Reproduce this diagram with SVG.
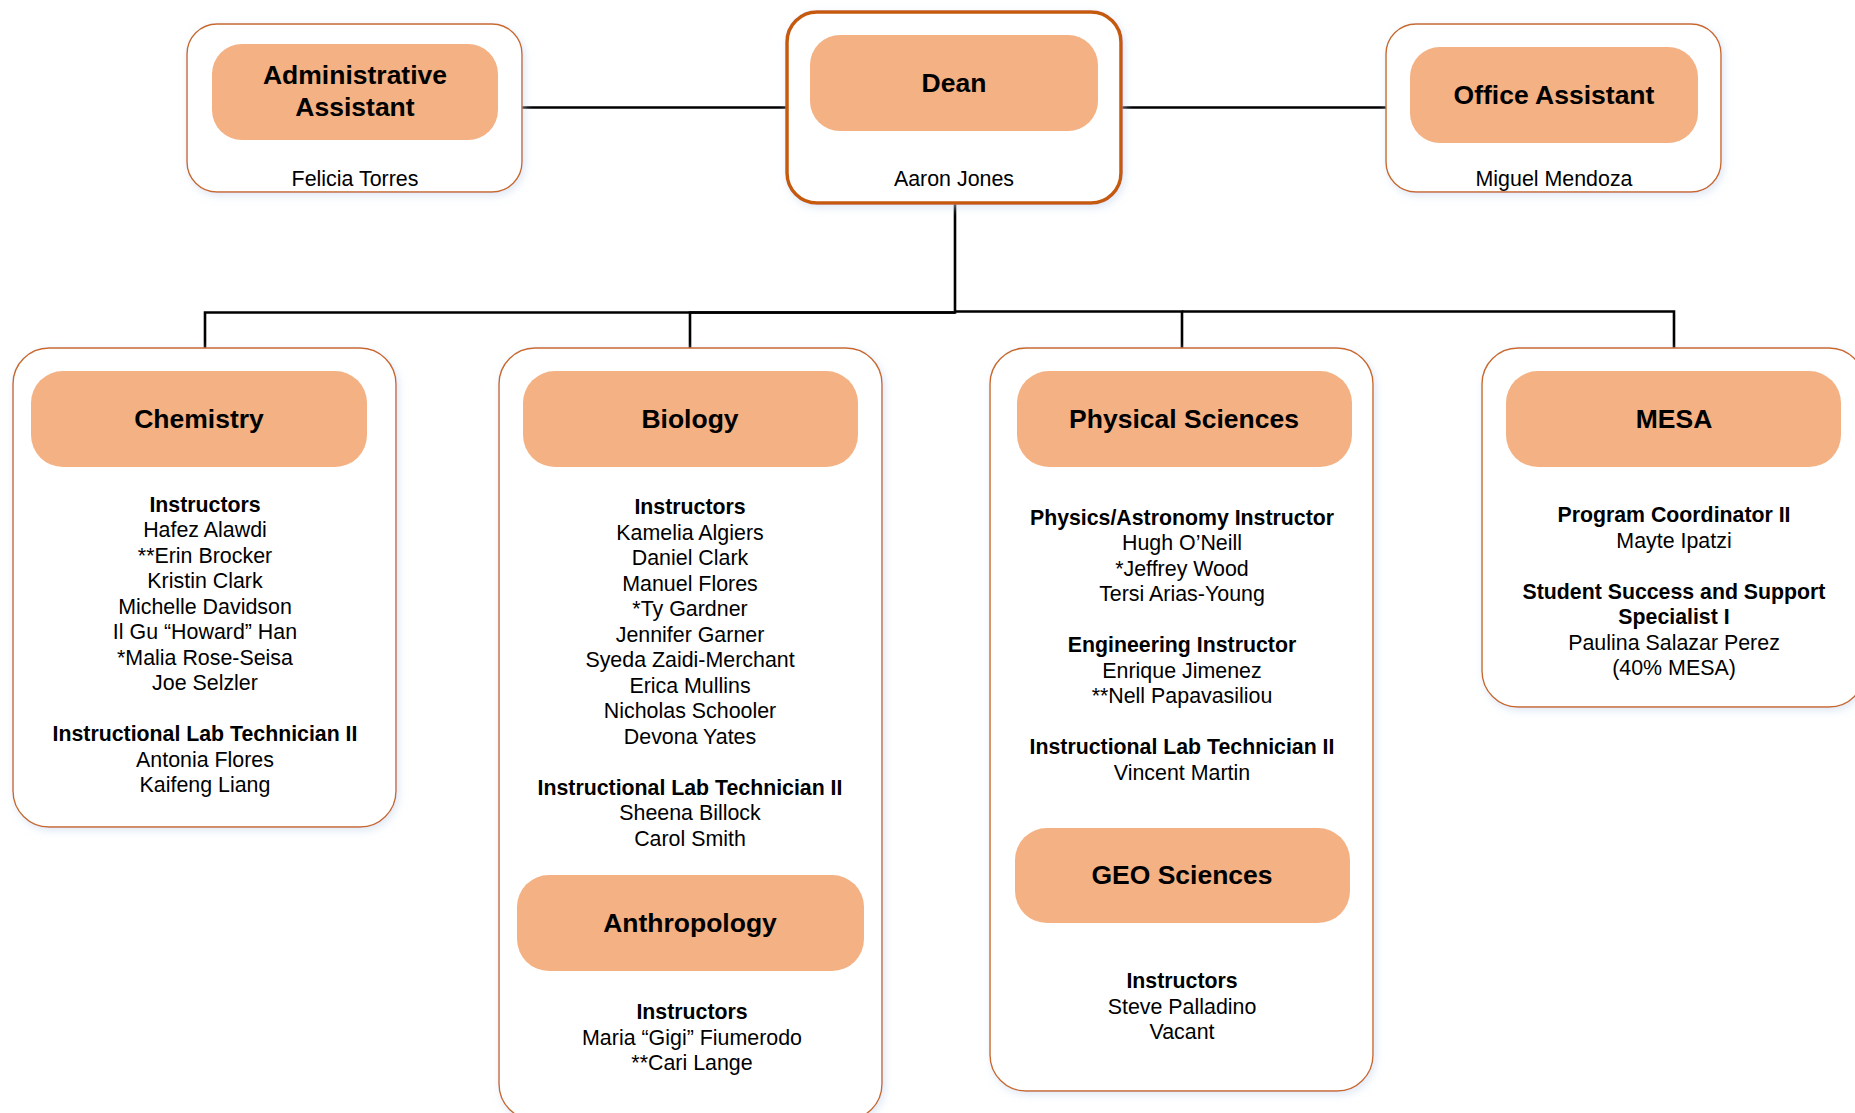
<svg xmlns="http://www.w3.org/2000/svg" width="1855" height="1113" viewBox="0 0 1855 1113">
<style>
.outer{fill:#fff;stroke:#C8682A;stroke-width:1.4}
.dean{fill:#fff;stroke:#C55A11;stroke-width:3.5}
.inner{fill:#F4B183;stroke:none}
.title{font-family:"Liberation Sans",Arial,sans-serif;font-weight:bold;font-size:26.5px;fill:#000;text-anchor:middle}
.name{font-family:"Liberation Sans",Arial,sans-serif;font-size:21.4px;fill:#000;text-anchor:middle}
.hd{font-family:"Liberation Sans",Arial,sans-serif;font-weight:bold;font-size:21.3px;fill:#000;text-anchor:middle}
.conn{fill:none;stroke:#000;stroke-width:2.6}
</style>
<defs>
<filter id="sh" x="-10%" y="-10%" width="120%" height="120%">
<feDropShadow dx="2" dy="3" stdDeviation="4" flood-color="#C9D9EE" flood-opacity="0.6"/>
</filter>
</defs>
<rect width="1855" height="1113" fill="#fff"/>
<g id="connectors">
<path class="conn" d="M522 107.5 H787"/>
<path class="conn" d="M1121 107.5 H1386"/>
<path class="conn" d="M955 203 V312.5 H205 V348"/>
<path class="conn" d="M955 312.5 H690 V348"/>
<path class="conn" d="M955 311.5 H1182 V348"/>
<path class="conn" d="M1182 311.5 H1674 V348"/>
</g>
<g id="admin">
<rect class="outer" filter="url(#sh)" x="187" y="24" width="335" height="168" rx="30"/>
<rect class="inner" x="212" y="44" width="286" height="96" rx="30"/>
<text class="title" x="355" y="84">Administrative</text>
<text class="title" x="355" y="116">Assistant</text>
<text class="name" x="355" y="186">Felicia Torres</text>
</g>
<g id="dean">
<rect class="dean" filter="url(#sh)" x="787" y="12" width="334" height="191" rx="30"/>
<rect class="inner" x="810" y="35" width="288" height="96" rx="30"/>
<text class="title" x="954" y="92">Dean</text>
<text class="name" x="954" y="186">Aaron Jones</text>
</g>
<g id="office">
<rect class="outer" filter="url(#sh)" x="1386" y="24" width="335" height="168" rx="30"/>
<rect class="inner" x="1410" y="47" width="288" height="96" rx="30"/>
<text class="title" x="1554" y="104">Office Assistant</text>
<text class="name" x="1554" y="186">Miguel Mendoza</text>
</g>
<g id="chemistry">
<rect class="outer" filter="url(#sh)" x="13" y="348" width="383" height="479" rx="36"/>
<rect class="inner" x="31" y="371" width="336" height="96" rx="32"/>
<text class="title" x="199" y="428">Chemistry</text>
<text class="hd" x="205" y="511.5">Instructors</text>
<text class="name" x="205" y="537">Hafez Alawdi</text>
<text class="name" x="205" y="562.5">**Erin Brocker</text>
<text class="name" x="205" y="588">Kristin Clark</text>
<text class="name" x="205" y="613.5">Michelle Davidson</text>
<text class="name" x="205" y="639">Il Gu “Howard” Han</text>
<text class="name" x="205" y="664.5">*Malia Rose-Seisa</text>
<text class="name" x="205" y="690">Joe Selzler</text>
<text class="hd" x="205" y="741">Instructional Lab Technician II</text>
<text class="name" x="205" y="766.5">Antonia Flores</text>
<text class="name" x="205" y="792">Kaifeng Liang</text>
</g>
<g id="biology">
<rect class="outer" filter="url(#sh)" x="499" y="348" width="383" height="772" rx="36"/>
<rect class="inner" x="523" y="371" width="335" height="96" rx="32"/>
<text class="title" x="690" y="428">Biology</text>
<text class="hd" x="690" y="514">Instructors</text>
<text class="name" x="690" y="539.5">Kamelia Algiers</text>
<text class="name" x="690" y="565">Daniel Clark</text>
<text class="name" x="690" y="590.5">Manuel Flores</text>
<text class="name" x="690" y="616">*Ty Gardner</text>
<text class="name" x="690" y="641.5">Jennifer Garner</text>
<text class="name" x="690" y="667">Syeda Zaidi-Merchant</text>
<text class="name" x="690" y="692.5">Erica Mullins</text>
<text class="name" x="690" y="718">Nicholas Schooler</text>
<text class="name" x="690" y="743.5">Devona Yates</text>
<text class="hd" x="690" y="794.5">Instructional Lab Technician II</text>
<text class="name" x="690" y="820">Sheena Billock</text>
<text class="name" x="690" y="845.5">Carol Smith</text>
</g>
<g id="anthropology">
<rect class="inner" x="517" y="875" width="347" height="96" rx="32"/>
<text class="title" x="690" y="932">Anthropology</text>
<text class="hd" x="692" y="1019">Instructors</text>
<text class="name" x="692" y="1044.5">Maria “Gigi” Fiumerodo</text>
<text class="name" x="692" y="1070">**Cari Lange</text>
</g>
<g id="physical-sciences">
<rect class="outer" filter="url(#sh)" x="990" y="348" width="383" height="743" rx="36"/>
<rect class="inner" x="1017" y="371" width="335" height="96" rx="32"/>
<text class="title" x="1184" y="428">Physical Sciences</text>
<text class="hd" x="1182" y="524.5">Physics/Astronomy Instructor</text>
<text class="name" x="1182" y="550">Hugh O’Neill</text>
<text class="name" x="1182" y="575.5">*Jeffrey Wood</text>
<text class="name" x="1182" y="601">Tersi Arias-Young</text>
<text class="hd" x="1182" y="652">Engineering Instructor</text>
<text class="name" x="1182" y="677.5">Enrique Jimenez</text>
<text class="name" x="1182" y="703">**Nell Papavasiliou</text>
<text class="hd" x="1182" y="754">Instructional Lab Technician II</text>
<text class="name" x="1182" y="779.5">Vincent Martin</text>
</g>
<g id="geo-sciences">
<rect class="inner" x="1015" y="828" width="335" height="95" rx="32"/>
<text class="title" x="1182" y="884">GEO Sciences</text>
<text class="hd" x="1182" y="988">Instructors</text>
<text class="name" x="1182" y="1013.5">Steve Palladino</text>
<text class="name" x="1182" y="1039">Vacant</text>
</g>
<g id="mesa">
<rect class="outer" filter="url(#sh)" x="1482" y="348" width="383" height="359" rx="36"/>
<rect class="inner" x="1506" y="371" width="335" height="96" rx="32"/>
<text class="title" x="1674" y="428">MESA</text>
<text class="hd" x="1674" y="522">Program Coordinator II</text>
<text class="name" x="1674" y="547.5">Mayte Ipatzi</text>
<text class="hd" x="1674" y="598.5">Student Success and Support</text>
<text class="hd" x="1674" y="624">Specialist I</text>
<text class="name" x="1674" y="649.5">Paulina Salazar Perez</text>
<text class="name" x="1674" y="675">(40% MESA)</text>
</g>
</svg>
